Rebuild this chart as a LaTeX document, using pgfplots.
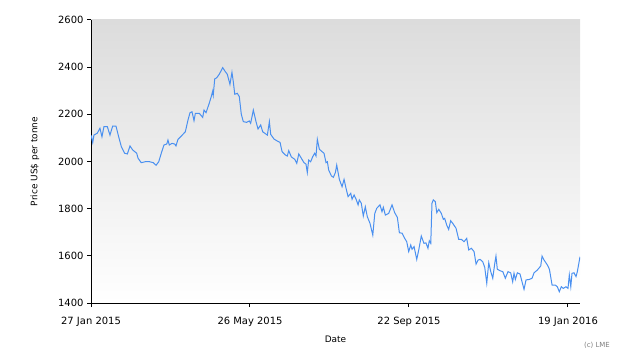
\documentclass[border=0pt]{standalone}
\usepackage{fontspec}
\setmainfont{DejaVu Sans}
\usepackage{pgfplots}
\pgfplotsset{compat=1.18}
\definecolor{linecol}{RGB}{74,144,240}
\definecolor{bgtop}{RGB}{220,220,220}
\begin{document}
\begin{tikzpicture}[x=1bp,y=1bp]
\useasboundingbox (0,0) rectangle (630,360);
\begin{axis}[
 at={(91bp,57bp)}, anchor=south west,
 scale only axis, width=489bp, height=283bp,
 xmin=0, xmax=366, ymin=1400, ymax=2600,
 axis x line*=bottom, axis y line*=left,
 axis line style={black, line width=1bp, -},
 xtick={0,119,238,357},
 xticklabels={27 Jan 2015, 26 May 2015, 22 Sep 2015, 19 Jan 2016},
 ytick={1400,1600,...,2600},
 tick align=outside, major tick length=4bp,
 tick style={black, line width=1bp},
 ticklabel style={font=\fontsize{10}{12}\selectfont},
 xticklabel style={yshift=-7bp},
 /pgf/number format/assume math mode=true,
 /pgf/number format/1000 sep={},
 xlabel={Date}, ylabel={Price US\$ per tonne},
 label style={font=\fontsize{9}{11}\selectfont},
 xlabel style={at={(axis description cs:0.5,-0.127)}, anchor=center},
 ylabel style={at={(axis description cs:-0.1145,0.5)}, anchor=center, rotate=0},
 axis background/.style={shade, top color=bgtop, bottom color=white},
]
\addplot[color=linecol, line width=1bp, mark=none] table {
x y
0 2112
1.3 2080
2.2 2112
4.7 2120
6.7 2141
8.2 2105
9.7 2148
12.2 2148
14.2 2112
16.2 2150
18.7 2150
20.7 2105
22.7 2063
25.2 2035
27.2 2032
29.2 2066
31.2 2049
34.2 2035
35.2 2014
37.6 1995
40.6 1999
43.9 1999
46.6 1995
48.7 1984
50.7 1999
52.6 2035
54.6 2070
56.7 2074
57.6 2091
58.6 2070
60.6 2077
62.6 2074
63.6 2066
65.1 2094
67.6 2108
70.6 2126
72.6 2176
74.1 2207
75.6 2211
77.1 2173
78.1 2204
81.1 2204
83.6 2187
84.6 2218
86.1 2207
88.5 2247
90.0 2275
91.1 2299
91.5 2282
92.6 2350
94.1 2355
96.0 2370
98.6 2398
100.5 2381
102.0 2370
103.5 2338
104.0 2327
105.5 2378
106.5 2338
107.6 2285
109.5 2289
111.0 2275
112.5 2200
114.0 2169
116.5 2166
118.5 2172
119.5 2162
121.5 2218
123.5 2169
125.0 2138
127.0 2155
128.5 2126
130.5 2118
132.0 2112
133.5 2169
134.5 2115
137.0 2095
139.4 2087
141.5 2081
143.0 2042
145.4 2028
146.9 2023
148.0 2046
149.9 2020
152.5 2009
154.0 1992
155.5 2032
157.4 2014
159.4 1995
160.9 1989
161.9 1953
162.9 2006
164.4 1999
165.9 2020
167.4 2035
168.4 2023
169.4 2094
170.9 2052
172.9 2042
174.4 2035
175.9 1995
176.9 1999
177.9 1964
179.9 1939
181.4 1933
182.9 1953
183.9 1985
185.9 1924
187.9 1893
189.4 1924
190.9 1886
192.4 1851
194.4 1865
195.4 1840
196.9 1858
198.4 1840
199.9 1816
200.8 1837
202.3 1823
203.8 1769
205.3 1808
206.8 1766
208.8 1738
210.9 1688
212.4 1780
213.9 1802
216.3 1816
217.8 1787
218.8 1806
220.3 1773
222.8 1780
225.3 1816
227.3 1783
229.3 1763
230.8 1698
232.8 1696
234.8 1674
236.3 1660
237.8 1618
239.3 1646
240.3 1628
241.8 1639
243.8 1585
245.3 1625
247.2 1684
249.2 1653
250.7 1655
252.2 1632
253.2 1664
254.3 1653
255.2 1823
256.2 1837
257.7 1830
258.8 1783
260.3 1797
262.2 1780
263.7 1755
264.7 1759
266.2 1731
267.7 1712
269.2 1749
270.7 1738
273.2 1717
275.2 1670
277.2 1670
279.2 1660
281.2 1674
282.7 1625
284.7 1632
286.7 1618
288.2 1565
289.7 1582
291.2 1585
293.2 1575
294.7 1551
296.2 1484
297.7 1571
299.2 1533
300.7 1505
302.2 1568
303.1 1599
304.1 1543
306.1 1537
308.2 1533
310.1 1505
312.1 1533
314.1 1528
315.6 1490
316.6 1526
317.6 1500
319.1 1528
321.1 1523
322.6 1490
324.1 1458
325.6 1498
328.1 1500
330.1 1505
331.6 1528
334.1 1540
336.6 1557
337.6 1599
339.1 1582
341.6 1561
343.1 1543
345.1 1476
347.5 1476
349.0 1469
350.5 1448
352.0 1469
353.5 1462
355.5 1469
357.0 1462
358.0 1519
359.1 1469
360.0 1526
361.5 1528
363.0 1512
364.0 1533
366.0 1596
};
\end{axis}
\node[font=\fontsize{7}{8}\selectfont, text=gray] at (597,15) {(c) LME};
\end{tikzpicture}
\end{document}
